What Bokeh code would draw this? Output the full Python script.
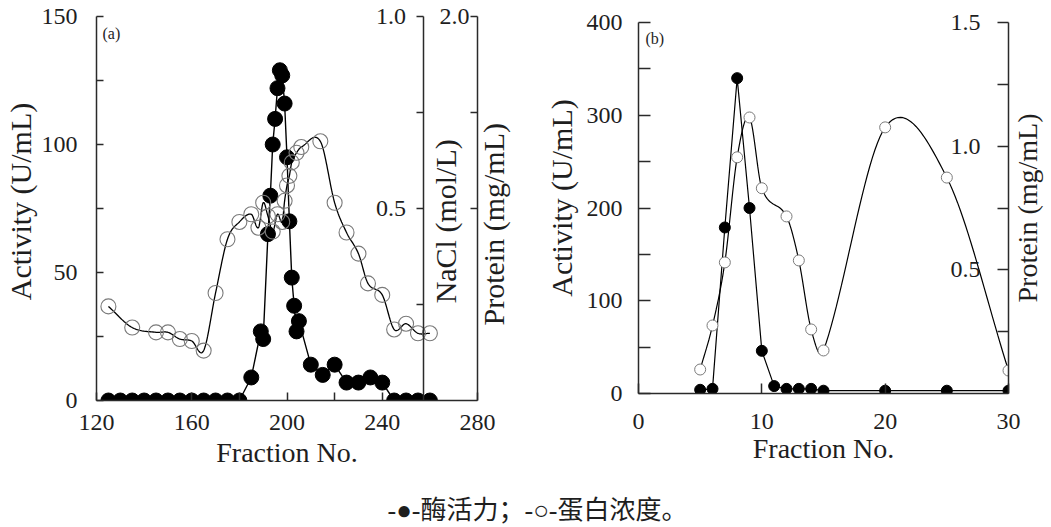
import numpy as np
from bokeh.plotting import figure
from bokeh.models import Range1d, LinearAxis, FixedTicker, Label, PrintfTickFormatter
from bokeh.layouts import column, row
from bokeh.embed import file_html
from bokeh.resources import INLINE
from bokeh.core.properties import value

# ---------------- data: panel (a) ----------------
a_act_frac = [125, 130, 135, 140, 145, 150, 155, 160, 165, 170, 175, 180,
              185, 189, 190, 192, 193, 194, 195, 196, 197, 198, 199, 200,
              201, 202, 203, 204, 205, 210, 215, 220, 225, 230, 235, 240,
              245, 250, 255, 260]
a_activity = [0, 0, 0, 0, 0, 0, 0, 0, 0, 0, 0, 0,
              9, 27, 24, 65, 80, 100, 110, 122, 129, 127, 116, 95,
              70, 48, 37, 27, 31, 14, 10, 14, 7, 7, 9, 7,
              0, 0, 0, 0]
a_prot_frac = [125, 135, 145, 150, 155, 160, 165, 170, 175, 180, 185, 188,
               190, 192, 194, 196, 198, 199, 200, 201, 202, 204, 206, 214,
               220, 225, 230, 234, 240, 245, 250, 255, 260]
a_protein = [0.49, 0.38, 0.355, 0.355, 0.32, 0.31, 0.26, 0.56, 0.84, 0.93, 0.97, 0.90,
             1.03, 0.96, 0.88, 0.97, 0.93, 1.04, 1.12, 1.17, 1.24, 1.29, 1.32, 1.35,
             1.03, 0.875, 0.765, 0.61, 0.55, 0.37, 0.40, 0.35, 0.35]

# ---------------- data: panel (b) ----------------
b_act_frac = [5, 6, 7, 8, 9, 10, 11, 12, 13, 14, 15, 20, 25, 30]
b_activity = [4, 5, 179, 340, 200, 46, 8, 5, 5, 5, 3, 3, 3, 3]
b_prot_frac = [5, 6, 7, 8, 9, 10, 12, 13, 14, 15, 20, 25, 30]
b_protein = [0.097, 0.275, 0.53, 0.955, 1.116, 0.83, 0.716, 0.538, 0.259, 0.174,
             1.076, 0.873, 0.093]

caption_text = "-●-酶活力；-○-蛋白浓度。"
protein_title = "Protein (mg/mL)"

SERIF = "Liberation Serif"
INK = "#1e1e1e"
AXC = "#2a2a2a"
NBSP = "\u00a0"


def hermite(xs, ys, n=24):
    x = np.asarray(xs, float)
    y = np.asarray(ys, float)
    m = np.empty_like(y)
    m[1:-1] = (y[2:] - y[:-2]) / (x[2:] - x[:-2])
    m[0] = (y[1] - y[0]) / (x[1] - x[0])
    m[-1] = (y[-1] - y[-2]) / (x[-1] - x[-2])
    X, Y = [], []
    for i in range(len(x) - 1):
        h = x[i + 1] - x[i]
        t = np.linspace(0, 1, n, endpoint=(i == len(x) - 2))
        h00 = 2 * t**3 - 3 * t**2 + 1
        h10 = t**3 - 2 * t**2 + t
        h01 = -2 * t**3 + 3 * t**2
        h11 = t**3 - t**2
        X.extend(x[i] + t * h)
        Y.extend(h00 * y[i] + h10 * h * m[i] + h01 * y[i + 1] + h11 * h * m[i + 1])
    return X, Y


def style_axis(ax, tick_in, label_size="24px", title_size="30px"):
    ax.axis_line_color = AXC
    ax.axis_line_width = 1.5
    ax.major_tick_line_color = AXC
    ax.minor_tick_line_color = AXC
    ax.major_tick_line_width = 1.5
    ax.minor_tick_line_width = 1.5
    ax.major_tick_in = tick_in
    ax.major_tick_out = 0
    ax.minor_tick_in = tick_in
    ax.minor_tick_out = 0
    ax.major_label_text_font = SERIF
    ax.major_label_text_font_size = label_size
    ax.major_label_text_color = INK
    ax.axis_label_text_font = SERIF
    ax.axis_label_text_font_size = title_size
    ax.axis_label_text_font_style = "normal"
    ax.axis_label_text_color = INK


def right_title(ax, text, pad):
    """Right-side title reading bottom-to-top, lifted from the frame bottom."""
    props = ax.properties()
    if "axis_label_orientation" in props and "axis_label_align" in props:
        ax.axis_label_orientation = np.pi / 2
        ax.axis_label_align = "start"
        ax.axis_label = NBSP * pad + text
    else:
        ax.axis_label = text


def base_fig(**kw):
    p = figure(output_backend="svg", toolbar_location=None, **kw)
    p.outline_line_color = None
    p.grid.visible = False
    p.background_fill_color = "white"
    p.border_fill_color = "white"
    return p


TOP = 2  # common top border of both panels (row aligns frame tops)

# ================= panel (a) =================
FH_A = 398          # frame height (px); axes span 0..150 over the lower 384 px
k_a = FH_A / 384.0
p1 = base_fig(frame_width=381, frame_height=FH_A, x_range=Range1d(120, 280),
              y_range=Range1d(0, 150 * k_a), min_border_left=96, min_border_top=TOP,
              min_border_bottom=85, min_border_right=57)
p1.extra_y_ranges = {"nacl": Range1d(0, 1.0 * k_a), "prot": Range1d(0, 2.0 * k_a)}

xa = p1.xaxis[0]
style_axis(xa, 8, title_size="28px")
xa.ticker = FixedTicker(ticks=[120, 160, 200, 240, 280], minor_ticks=[180, 220])
xa.axis_label = "Fraction No."
xa.major_label_standoff = 14
xa.axis_label_standoff = 4

ya = p1.yaxis[0]
style_axis(ya, 7)
ya.bounds = (0, 150)
ya.ticker = FixedTicker(ticks=[0, 50, 100, 150], minor_ticks=[25, 75, 125])
ya.axis_label = "Activity (U/mL)"
ya.major_label_standoff = 19
ya.axis_label_standoff = 2

prot_ax = LinearAxis(y_range_name="prot", bounds=(0, 2.0))
style_axis(prot_ax, 7)
prot_ax.ticker = FixedTicker(ticks=[2.0], minor_ticks=[1.0, 1.5])
prot_ax.formatter = PrintfTickFormatter(format="%.1f")
prot_ax.major_label_standoff = -38
prot_ax.axis_label_standoff = 21
right_title(prot_ax, protein_title, 10)
p1.add_layout(prot_ax, "right")

nacl_ax = LinearAxis(y_range_name="nacl", fixed_location=257.5, bounds=(0, 1.0))
style_axis(nacl_ax, 7)
nacl_ax.ticker = FixedTicker(ticks=[0.5, 1.0], minor_ticks=[0.25, 0.75])
nacl_ax.formatter = PrintfTickFormatter(format="%.1f")
nacl_ax.major_label_standoff = -48
p1.add_layout(nacl_ax, "right")

p1.add_layout(Label(x=266.6, y=70, text="NaCl (mol/L)", angle=np.pi / 2,
                    text_align="center", text_baseline="middle",
                    text_font=SERIF, text_font_size="30px", text_color=INK))
p1.add_layout(Label(x=122.5, y=143.5, text="(a)", text_align="left",
                    text_baseline="middle", text_font=SERIF,
                    text_font_size="16px", text_color=INK))

p1.line(a_act_frac, a_activity, line_color="black", line_width=1.4)
p1.scatter(a_act_frac, a_activity, size=15, marker="circle", fill_color="black",
           line_color="black")
px_, py_ = hermite(a_prot_frac, a_protein)
p1.line(px_, py_, y_range_name="prot", line_color="black", line_width=1.3)
p1.scatter(a_prot_frac, a_protein, y_range_name="prot", size=15, marker="circle",
           fill_alpha=0, line_color="#7a7a7a", line_width=1.1)

# ================= panel (b) =================
FH_B = 391          # frame height (px); axes span 0..400 over the lower 371 px
k_b = FH_B / 371.0
p2 = base_fig(frame_width=370, frame_height=FH_B, x_range=Range1d(0, 30),
              y_range=Range1d(0, 400 * k_b), min_border_left=104, min_border_top=TOP,
              min_border_bottom=92, min_border_right=43)
p2.extra_y_ranges = {"prot": Range1d(0, 1.5 * k_b)}

xb = p2.xaxis[0]
style_axis(xb, 10, title_size="28px")
xb.ticker = FixedTicker(ticks=[0, 10, 20, 30])
xb.axis_label = "Fraction No."
xb.major_label_standoff = 20
xb.axis_label_standoff = 1

yb = p2.yaxis[0]
style_axis(yb, 12)
yb.bounds = (0, 400)
yb.ticker = FixedTicker(ticks=[0, 100, 200, 300, 400], minor_ticks=[50, 150, 250, 350])
yb.axis_label = "Activity (U/mL)"
yb.major_label_standoff = 16
yb.axis_label_standoff = 6

prot_b = LinearAxis(y_range_name="prot", bounds=(0, 1.5))
style_axis(prot_b, 11, title_size="28px")
prot_b.ticker = FixedTicker(ticks=[0.5, 1.0, 1.5], minor_ticks=[0.25, 0.75, 1.25])
prot_b.formatter = PrintfTickFormatter(format="%.1f")
prot_b.major_label_standoff = -58
prot_b.axis_label_standoff = 44
right_title(prot_b, protein_title, 13)
p2.add_layout(prot_b, "right")

p2.add_layout(Label(x=0.57, y=383, text="(b)", text_align="left",
                    text_baseline="middle", text_font=SERIF,
                    text_font_size="16px", text_color=INK))

p2.line(b_act_frac, b_activity, line_color="black", line_width=1.2)
p2.scatter(b_act_frac, b_activity, size=11, marker="circle", fill_color="black",
           line_color="black")
bx_, by_ = hermite(b_prot_frac, b_protein)
p2.line(bx_, by_, y_range_name="prot", line_color="black", line_width=1.2)
p2.scatter(b_prot_frac, b_protein, y_range_name="prot", size=11, marker="circle",
           fill_color="white", fill_alpha=1, line_color="#7a7a7a", line_width=1.0)

# ================= caption =================
p3 = base_fig(width=1051, height=42, x_range=Range1d(0, 1051), y_range=Range1d(0, 42),
              min_border=0, x_axis_type=None, y_axis_type=None)
p3.text(x=[537], y=[17], text=[caption_text], text_align="center",
        text_baseline="middle",
        text_font=value("'Liberation Serif', 'Noto Sans CJK SC'"),
        text_font_size="26px", text_color=INK)

layout = column(row(p1, p2), p3)
open("out.html", "w").write(file_html(layout, INLINE))
